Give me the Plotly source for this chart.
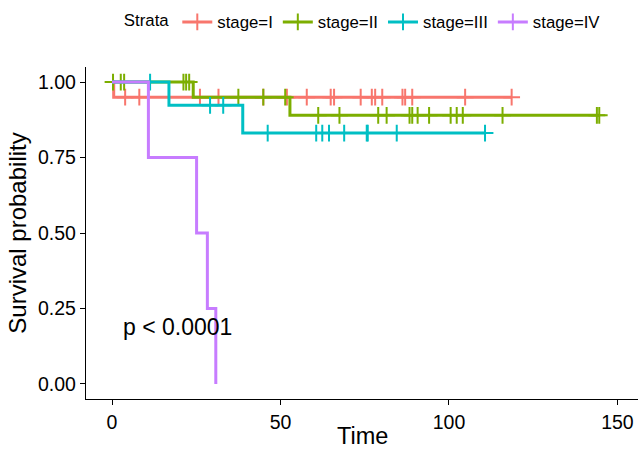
import plotly.graph_objects as go

# ---------------- data ----------------
strata = ["stage=I", "stage=II", "stage=III", "stage=IV"]
colors = ["#F8766D", "#7CAE00", "#00BFC4", "#C77CFF"]

# event (drop) times and survival probability after each drop
event_t_I = [0.5]
surv_I = [0.95]
censor_I = [3.9, 8.1, 26.1, 31.6, 44.9, 51.9, 57.8, 64.9, 65.9, 73.8, 77.1,
            78.1, 80.2, 86.2, 87.0, 89.1, 104.8, 118.6]
end_I = 118.6

event_t_II = [24.1, 52.8]
surv_II = [0.95, 0.89]
censor_II = [0.3, 2.6, 3.6, 21.2, 22.0, 22.9, 37.5, 44.9, 51.4, 61.2, 67.5,
             79.0, 81.5, 88.3, 89.1, 90.7, 94.1, 100.5, 102.3, 104.1, 115.9,
             143.9, 144.6]
end_II = 144.6

event_t_III = [16.9, 38.8]
surv_III = [0.923, 0.831]
censor_III = [11.3, 29.1, 33.0, 46.2, 60.6, 62.4, 64.4, 68.9, 75.6, 75.9,
              84.5, 110.7]
end_III = 110.7

event_t_IV = [10.8, 25.1, 28.3, 30.8]
surv_IV = [0.75, 0.50, 0.25, 0.0]
censor_IV = []
end_IV = 30.8

x_ticks = [0, 50, 100, 150]
y_ticks = [0.0, 0.25, 0.50, 0.75, 1.00]
y_ticklabels = ["0.00", "0.25", "0.50", "0.75", "1.00"]
pval_text = "p < 0.0001"
x_title = "Time"
y_title = "Survival probability"
# ---------------------------------------------------------------

groups = [
    (event_t_I, surv_I, censor_I, end_I),
    (event_t_II, surv_II, censor_II, end_II),
    (event_t_III, surv_III, censor_III, end_III),
    (event_t_IV, surv_IV, censor_IV, end_IV),
]


def surv_at(t, ev, sv):
    s = 1.0
    for e, v in zip(ev, sv):
        if e <= t:
            s = v
    return s


fig = go.Figure()
FONT = "Liberation Sans, Arial, Helvetica, sans-serif"

for name, col, (ev, sv, cens, end) in zip(strata, colors, groups):
    xs = [0] + list(ev)
    ys = [1.0] + list(sv)
    if end > xs[-1]:
        xs.append(end)
        ys.append(ys[-1])
    fig.add_trace(go.Scatter(
        x=xs, y=ys, mode="lines", line=dict(color=col, width=3, shape="hv"),
        showlegend=False, hoverinfo="skip", legendgroup=name))
    if cens:
        fig.add_trace(go.Scatter(
            x=cens, y=[surv_at(c, ev, sv) for c in cens], mode="markers",
            marker=dict(symbol="cross-thin", size=12, color=col,
                        line=dict(color=col, width=2)),
            showlegend=False, legendgroup=name))
    # legend entry
    fig.add_trace(go.Scatter(
        x=[None], y=[None], mode="lines+markers", name=name,
        line=dict(color=col, width=3),
        marker=dict(symbol="cross-thin", size=12, color=col,
                    line=dict(color=col, width=2)),
        legendgroup=name))

fig.add_annotation(x=2.6, y=0.19, text=pval_text, showarrow=False,
                   xanchor="left", yanchor="middle",
                   font=dict(size=23, color="black", family=FONT))

# x-axis title placed as an annotation below the tick labels
fig.add_annotation(x=0.5, y=-0.111, xref="paper", yref="paper",
                   text=x_title, showarrow=False, xanchor="center",
                   yanchor="middle",
                   font=dict(size=23.5, color="black", family=FONT))

fig.update_layout(
    width=638, height=449,
    margin=dict(l=86, r=0, t=66.5, b=49.7, pad=0, autoexpand=False),
    paper_bgcolor="white", plot_bgcolor="white",
    font=dict(family=FONT, color="black"),
    showlegend=True,
    legend=dict(orientation="h", xref="container", yref="container",
                x=0.191, y=1 - 22 / 449, xanchor="left", yanchor="middle",
                title=dict(text="Strata", font=dict(size=16.8, color="black")),
                font=dict(size=16.8, color="black"),
                bgcolor="rgba(0,0,0,0)", borderwidth=0),
    xaxis=dict(range=[-7.72, 156.1], tickvals=x_ticks, automargin=False,
               showgrid=False, zeroline=False, showline=True,
               linecolor="black", linewidth=1.3, ticks="outside",
               ticklen=5, tickwidth=1.3, tickcolor="black",
               tickfont=dict(size=19.5, color="black")),
    yaxis=dict(range=[-0.05, 1.05], tickvals=y_ticks, ticktext=y_ticklabels,
               automargin=False,
               showgrid=False, zeroline=False, showline=True,
               linecolor="black", linewidth=1.3, ticks="outside",
               ticklen=5, tickwidth=1.3, tickcolor="black",
               tickfont=dict(size=19.5, color="black"),
               title=dict(text=y_title,
                          font=dict(size=24, color="black"), standoff=4)),
)

fig.write_html("out.html")
